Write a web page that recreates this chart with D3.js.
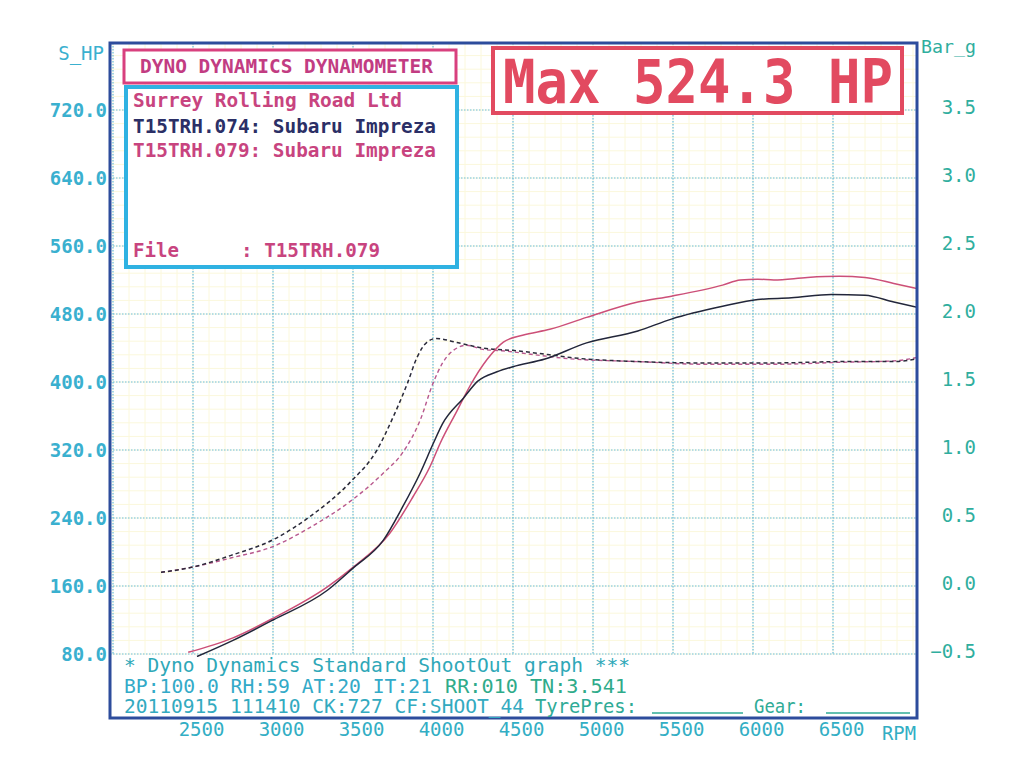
<!DOCTYPE html>
<html>
<head>
<meta charset="utf-8">
<script src="https://cdn.jsdelivr.net/npm/d3@7"></script>
<style>
  body { margin: 0; background: #fff; }
  svg text { font-family: "DejaVu Sans Mono", "Liberation Mono", monospace; }
</style>
</head>
<body>
<div id="visualization"></div>
<script>
// run T15TRH.074 (dark) and T15TRH.079 (pink)
var rpm074Power = [2525, 2750, 3000, 3340, 3500, 3690, 3810, 3920, 4000, 4060, 4190, 4280, 4400, 4500, 4700, 4960, 5280, 5490, 5810, 6030, 6240, 6490, 6700, 6880, 7025];
var hp074 = [77, 96, 120, 155, 181, 214, 253, 293, 327, 351, 381, 401, 412, 418, 427, 446, 460, 474, 489, 497, 499, 503, 502, 494, 488];

var rpm079Power = [2470, 2750, 3000, 3340, 3500, 3730, 3875, 3980, 4045, 4150, 4230, 4340, 4440, 4560, 4730, 4960, 5280, 5490, 5810, 5920, 6030, 6130, 6340, 6540, 6700, 6880, 7025];
var hp079 = [82, 99, 122, 159, 182, 222, 265, 300, 328, 366, 395, 427, 447, 455, 462, 476, 494, 501, 514, 520, 521, 520, 523, 524.3, 523, 516, 510];

var rpm074Boost = [2300, 2500, 2750, 3000, 3230, 3480, 3650, 3750, 3840, 3900, 3960, 4020, 4150, 4310, 4520, 4730, 4860, 5280, 5700, 6130, 6550, 6880, 7025];
var bar074 = [0.10, 0.14, 0.23, 0.34, 0.51, 0.76, 1.00, 1.24, 1.49, 1.68, 1.79, 1.82, 1.79, 1.75, 1.73, 1.70, 1.68, 1.65, 1.64, 1.64, 1.65, 1.65, 1.67];

var rpm079Boost = [2300, 2500, 2750, 3000, 3230, 3480, 3690, 3810, 3920, 4000, 4060, 4150, 4210, 4310, 4430, 4640, 4860, 5280, 5700, 6130, 6550, 6880, 7025];
var bar079 = [0.10, 0.14, 0.21, 0.29, 0.43, 0.62, 0.83, 0.98, 1.22, 1.49, 1.64, 1.75, 1.77, 1.74, 1.73, 1.70, 1.67, 1.65, 1.63, 1.63, 1.645, 1.655, 1.68];

var rpmTicks = [2500, 3000, 3500, 4000, 4500, 5000, 5500, 6000, 6500];
var hpTicks = [80, 160, 240, 320, 400, 480, 560, 640, 720];
var barTicks = [-0.5, 0.0, 0.5, 1.0, 1.5, 2.0, 2.5, 3.0, 3.5];

var W = 1023, H = 768;
var frame = {left: 110, right: 917, top: 43, bottom: 718};
var plotBottom = 654;

var svg = d3.select("#visualization").append("svg")
    .attr("width", W)
    .attr("height", H);

var xScale = d3.scaleLinear().domain([2500, 6500]).range([193, 833]);
var yHP = d3.scaleLinear().domain([80, 720]).range([plotBottom, 110]);
var yBar = d3.scaleLinear().domain([-0.5, 3.5]).range([plotBottom, 110]);

var cyan = "#3ab0cf", teal = "#2fae9e", pink = "#c8447f", navy = "#2b2f66", red = "#e24a60";

svg.append("rect")
    .attr("x", frame.left).attr("y", frame.top)
    .attr("width", frame.right - frame.left).attr("height", frame.bottom - frame.top)
    .attr("fill", "#fff");

// faint yellow minor grid
var minorX = d3.range(2000, 7001, 100), minorY = d3.range(80, 800, 16);
svg.append("g").selectAll("line").data(minorX).enter().append("line")
    .attr("x1", function(d) { return xScale(d); }).attr("x2", function(d) { return xScale(d); })
    .attr("y1", frame.top).attr("y2", plotBottom)
    .attr("stroke", "#fbf8dc").attr("stroke-width", 1);
svg.append("g").selectAll("line").data(minorY).enter().append("line")
    .attr("y1", function(d) { return yHP(d); }).attr("y2", function(d) { return yHP(d); })
    .attr("x1", frame.left).attr("x2", frame.right)
    .attr("stroke", "#fbf8dc").attr("stroke-width", 1);

// major dotted grid
svg.append("g").selectAll("line").data(rpmTicks.concat([2000])).enter().append("line")
    .attr("x1", function(d) { return xScale(d); }).attr("x2", function(d) { return xScale(d); })
    .attr("y1", frame.top).attr("y2", plotBottom)
    .attr("stroke", "#6cbde0").attr("stroke-width", 1.2).attr("stroke-dasharray", "1.5,1.5");
svg.append("g").selectAll("line").data(hpTicks).enter().append("line")
    .attr("y1", function(d) { return yHP(d); }).attr("y2", function(d) { return yHP(d); })
    .attr("x1", frame.left).attr("x2", frame.right)
    .attr("stroke", "#6cbde0").attr("stroke-width", 1.2).attr("stroke-dasharray", "1.5,1.5");

// curves
svg.append("clipPath").attr("id", "plotclip").append("rect")
    .attr("x", frame.left).attr("y", frame.top)
    .attr("width", frame.right - frame.left).attr("height", plotBottom + 3 - frame.top);

function pts(xs, ys) { return xs.map(function(r, i) { return {rpm: r, v: ys[i]}; }); }

var hpLine = d3.line().x(function(d) { return xScale(d.rpm); }).y(function(d) { return yHP(d.v); }).curve(d3.curveMonotoneX);
var barLine = d3.line().x(function(d) { return xScale(d.rpm); }).y(function(d) { return yBar(d.v); }).curve(d3.curveMonotoneX);

var curves = svg.append("g").attr("clip-path", "url(#plotclip)");
curves.append("path").datum(pts(rpm079Boost, bar079)).attr("d", barLine)
    .attr("fill", "none").attr("stroke", "#b8588e").attr("stroke-width", 1.4).attr("stroke-dasharray", "4,3");
curves.append("path").datum(pts(rpm074Boost, bar074)).attr("d", barLine)
    .attr("fill", "none").attr("stroke", "#2a2a3a").attr("stroke-width", 1.5).attr("stroke-dasharray", "4,3");
curves.append("path").datum(pts(rpm079Power, hp079)).attr("d", hpLine)
    .attr("fill", "none").attr("stroke", "#cc4f78").attr("stroke-width", 1.5);
curves.append("path").datum(pts(rpm074Power, hp074)).attr("d", hpLine)
    .attr("fill", "none").attr("stroke", "#22263a").attr("stroke-width", 1.5);

// frame
svg.append("rect")
    .attr("x", frame.left).attr("y", frame.top)
    .attr("width", frame.right - frame.left).attr("height", frame.bottom - frame.top)
    .attr("fill", "none").attr("stroke", "#2d4c9c").attr("stroke-width", 3);

// axes
var leftAxis = svg.append("g")
    .attr("transform", "translate(" + (frame.left - 2) + ",0)")
    .call(d3.axisLeft(yHP).tickValues(hpTicks).tickFormat(d3.format(".1f")).tickSize(0).tickPadding(1));
leftAxis.select(".domain").remove();
leftAxis.selectAll("text").attr("fill", cyan).attr("font-size", 19).attr("font-weight", "bold")
    .attr("font-family", "DejaVu Sans Mono");

var rightAxis = svg.append("g")
    .attr("transform", "translate(" + 976 + ",-3)")
    .call(d3.axisLeft(yBar).tickValues(barTicks).tickFormat(d3.format(".1f")).tickSize(0).tickPadding(0));
rightAxis.select(".domain").remove();
rightAxis.selectAll("text").attr("fill", teal).attr("font-size", 19)
    .attr("font-family", "DejaVu Sans Mono");

var bottomAxis = svg.append("g")
    .attr("transform", "translate(8," + 722 + ")")
    .call(d3.axisBottom(xScale).tickValues(rpmTicks).tickFormat(d3.format("d")).tickSize(0).tickPadding(0));
bottomAxis.select(".domain").remove();
bottomAxis.selectAll("text").attr("fill", "#32aec4").attr("font-size", 19)
    .attr("font-family", "DejaVu Sans Mono");

function label(x, y, str, color, size, len, anchor) {
  var t = svg.append("text").attr("x", x).attr("y", y).attr("fill", color)
      .attr("font-size", size).text(str);
  if (len) t.attr("textLength", len).attr("lengthAdjust", "spacingAndGlyphs");
  if (anchor) t.attr("text-anchor", anchor);
  return t;
}

label(104, 60, "S_HP", cyan, 19, null, "end");
label(921, 53, "Bar_g", teal, 18, 55);
label(882, 740, "RPM", "#32aec4", 19, 34);

// header boxes
svg.append("rect").attr("x", 124).attr("y", 50).attr("width", 332).attr("height", 33)
    .attr("fill", "#fff").attr("stroke", "#d8407e").attr("stroke-width", 3);
label(140, 73, "DYNO DYNAMICS DYNAMOMETER", "#c23c82", 19, 293).attr("font-weight", "bold");

svg.append("rect").attr("x", 126).attr("y", 87).attr("width", 331).attr("height", 180)
    .attr("fill", "#fff").attr("stroke", "#2fb2e2").attr("stroke-width", 4);
label(133, 107, "Surrey Rolling Road Ltd", pink, 19, 269).attr("font-weight", "bold");
label(133, 133, "T15TRH.074: Subaru Impreza", navy, 19, 303).attr("font-weight", "bold");
label(133, 157, "T15TRH.079: Subaru Impreza", pink, 19, 303).attr("font-weight", "bold");
label(133, 257, "File", pink, 19, 46).attr("font-weight", "bold");
label(241, 257, ": T15TRH.079", pink, 19, 139).attr("font-weight", "bold");

svg.append("rect").attr("x", 493).attr("y", 48).attr("width", 409).attr("height", 65)
    .attr("fill", "#fff").attr("stroke", red).attr("stroke-width", 4);
svg.append("text")
    .attr("transform", "translate(503,103) scale(1,1.12)")
    .attr("fill", red).attr("font-size", 54).attr("font-weight", "bold")
    .text("Max 524.3 HP");

// footer text inside the frame
label(124, 672, "* Dyno Dynamics Standard ShootOut graph ***", "#2fa8b8", 19, 506);
label(124, 693, "BP:100.0 RH:59 AT:20 IT:21", "#33aac8", 19, 308);
label(445, 693, "RR:010 TN:3.541", "#2fab8a", 19, 182);
label(124, 713, "20110915 111410 CK:727 CF:SHOOT_44", "#33aac0", 19, 400);
label(535, 713, "TyrePres:", "#2fab96", 19, 102);
label(754, 713, "Gear:", "#2fab96", 19, 52);

// blank entry lines after TyrePres and Gear
svg.append("line").attr("x1", 652).attr("x2", 743).attr("y1", 713).attr("y2", 713)
    .attr("stroke", "#2fab96").attr("stroke-width", 1.5);
svg.append("line").attr("x1", 826).attr("x2", 910).attr("y1", 713).attr("y2", 713)
    .attr("stroke", "#2fab96").attr("stroke-width", 1.5);
</script>
</body>
</html>
